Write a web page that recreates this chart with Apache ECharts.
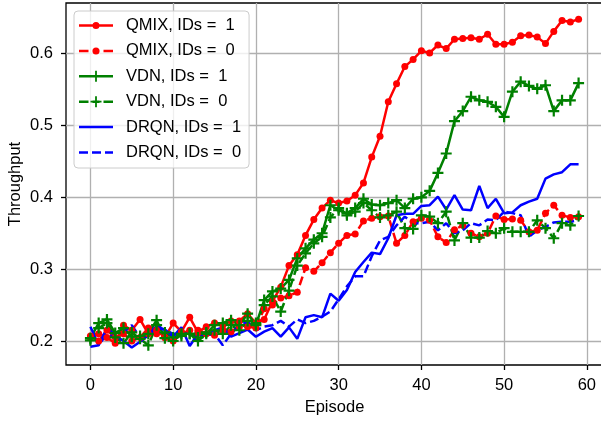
<!DOCTYPE html>
<html>
<head>
<meta charset="utf-8">
<script src="https://cdn.jsdelivr.net/npm/echarts@6/dist/echarts.min.js"></script>
<style>
  html, body { margin: 0; padding: 0; background: #fff; }
  #chart { width: 601px; height: 421px; }
</style>
</head>
<body>
<div id="chart"></div>
<script>
// Throughput per episode for three learners, with and without agent IDs
const episodes = Array.from({ length: 60 }, (_, i) => i);

const qmixIds1 = [0.205,0.21,0.205,0.197,0.222,0.215,0.23,0.21,0.215,0.205,
  0.225,0.213,0.233,0.212,0.22,0.225,0.222,0.228,0.228,0.238,
  0.225,0.23,0.255,0.275,0.305,0.32,0.347,0.369,0.385,0.396,
  0.392,0.395,0.403,0.42,0.456,0.485,0.533,0.558,0.582,0.592,
  0.604,0.601,0.612,0.607,0.62,0.621,0.622,0.62,0.627,0.613,
  0.613,0.616,0.625,0.626,0.623,0.614,0.631,0.646,0.644,0.648];

const qmixIds0 = [0.207,0.2,0.215,0.205,0.21,0.2,0.205,0.218,0.21,0.205,
  0.2,0.21,0.215,0.215,0.21,0.208,0.215,0.213,0.22,0.22,
  0.218,0.245,0.25,0.26,0.263,0.268,0.302,0.297,0.309,0.323,
  0.336,0.347,0.349,0.367,0.371,0.373,0.374,0.336,0.347,0.366,
  0.371,0.368,0.345,0.337,0.355,0.361,0.35,0.345,0.35,0.374,
  0.369,0.37,0.368,0.352,0.354,0.378,0.389,0.375,0.372,0.373];

const vdnIds1 = [0.204,0.225,0.23,0.211,0.218,0.206,0.207,0.21,0.229,0.204,
  0.2,0.21,0.21,0.2,0.21,0.222,0.225,0.229,0.222,0.238,
  0.222,0.257,0.269,0.273,0.285,0.315,0.329,0.341,0.35,0.389,
  0.382,0.378,0.385,0.398,0.39,0.389,0.392,0.396,0.385,0.398,
  0.4,0.409,0.434,0.461,0.506,0.52,0.54,0.535,0.533,0.526,
  0.512,0.547,0.561,0.555,0.551,0.556,0.52,0.535,0.535,0.559];

const vdnIds0 = [0.201,0.218,0.225,0.205,0.197,0.212,0.203,0.194,0.222,0.212,
  0.205,0.207,0.21,0.205,0.212,0.215,0.21,0.222,0.215,0.228,
  0.225,0.25,0.262,0.241,0.27,0.305,0.322,0.336,0.345,0.372,
  0.385,0.375,0.38,0.392,0.382,0.372,0.375,0.38,0.357,0.356,
  0.375,0.373,0.364,0.38,0.34,0.364,0.344,0.344,0.353,0.35,
  0.357,0.352,0.352,0.352,0.368,0.357,0.343,0.364,0.361,0.374];

const drqnIds1 = [0.22,0.194,0.218,0.208,0.2,0.191,0.199,0.208,0.218,0.216,
  0.206,0.219,0.193,0.21,0.208,0.215,0.219,0.206,0.211,0.216,
  0.206,0.213,0.218,0.206,0.219,0.203,0.233,0.236,0.233,0.266,
  0.256,0.271,0.296,0.31,0.323,0.321,0.343,0.375,0.377,0.377,
  0.388,0.389,0.401,0.383,0.403,0.383,0.382,0.416,0.385,0.398,
  0.378,0.379,0.389,0.394,0.398,0.426,0.432,0.435,0.446,0.446];

const drqnIds0 = [0.192,0.194,0.21,0.204,0.212,0.222,0.205,0.208,0.222,0.215,
  0.21,0.208,0.212,0.21,0.208,0.21,0.194,0.21,0.222,0.227,
  0.215,0.22,0.222,0.228,0.22,0.23,0.225,0.228,0.234,0.241,
  0.258,0.276,0.29,0.29,0.318,0.34,0.345,0.361,0.373,0.364,
  0.364,0.366,0.354,0.364,0.35,0.354,0.364,0.361,0.369,0.368,
  0.38,0.378,0.375,0.345,0.354,0.359,0.365,0.366,0.366,0.368];

const xTicks = [0, 10, 20, 30, 40, 50, 60];
const yTicks = [0.2, 0.3, 0.4, 0.5, 0.6];

const FONT = '"Liberation Sans", Arial, sans-serif';
const FS = 16.5;
const LW = 2.5;
const DASH = [9, 4];

// Marker shapes
const PLUS = 'path://M4,0H6V4H10V6H6V10H4V6H0V4H4Z';

// Legend handles: a 34px stroke (solid or dashed) with the series marker centred on it
const LINE_SOLID = 'M0,6.75H34V9.25H0Z';
const LINE_DASHED = 'M0,6.75H9V9.25H0Z M13,6.75H22V9.25H13Z M26,6.75H34V9.25H26Z';
const LINE_DASHED_MARK = 'M0,6.75H9.5V9.25H0Z M13.5,6.75H20.5V9.25H13.5Z M24.5,6.75H34V9.25H24.5Z';
const DOT = 'M20.5,8A3.5,3.5 0 1,1 13.5,8A3.5,3.5 0 1,1 20.5,8Z';
const CROSS = 'M16.1,2.5H17.9V7.1H22.5V8.9H17.9V13.5H16.1V8.9H11.5V7.1H16.1Z';

function pairs(vals) {
  return episodes.map((e, i) => [e, vals[i]]);
}

function makeSeries(name, vals, color, dashed, symbol, symbolSize) {
  return {
    name: name,
    type: 'line',
    data: pairs(vals),
    symbol: symbol,
    symbolSize: symbolSize,
    showSymbol: symbol !== 'none',
    animation: false,
    lineStyle: { color: color, width: LW, type: dashed ? DASH : 'solid' },
    itemStyle: { color: color, borderWidth: 0 },
    emphasis: { disabled: true }
  };
}

const series = [
  makeSeries('QMIX, IDs =  1', qmixIds1, '#ff0000', false, 'circle', 7),
  makeSeries('QMIX, IDs =  0', qmixIds0, '#ff0000', true, 'circle', 7),
  makeSeries('VDN, IDs =  1', vdnIds1, '#008000', false, PLUS, 11),
  makeSeries('VDN, IDs =  0', vdnIds0, '#008000', true, PLUS, 11),
  makeSeries('DRQN, IDs =  1', drqnIds1, '#0000ff', false, 'none', 0),
  makeSeries('DRQN, IDs =  0', drqnIds0, '#0000ff', true, 'none', 0)
];

const legendIcons = [
  'path://' + LINE_SOLID + ' ' + DOT,
  'path://' + LINE_DASHED_MARK + ' ' + DOT,
  'path://' + LINE_SOLID + ' ' + CROSS,
  'path://' + LINE_DASHED_MARK + ' ' + CROSS,
  'path://' + LINE_SOLID,
  'path://' + LINE_DASHED
];

const chart = echarts.init(document.getElementById('chart'), null, { renderer: 'canvas' });

chart.setOption({
  animation: false,
  backgroundColor: '#ffffff',
  textStyle: { fontFamily: FONT },
  grid: {
    left: 66, top: 3, width: 537, height: 362,
    outerBoundsMode: 'none',
    containLabel: false,
    show: true, borderColor: '#000000', borderWidth: 1.3,
    backgroundColor: 'transparent'
  },
  legend: {
    orient: 'vertical',
    left: 74, top: 11,
    padding: [6, 8, 7, 5],
    itemGap: 8.4,
    itemWidth: 34,
    itemHeight: 16,
    symbolKeepAspect: true,
    backgroundColor: 'rgba(255,255,255,0.8)',
    borderColor: '#cccccc',
    borderWidth: 1,
    borderRadius: 4,
    selectedMode: false,
    textStyle: { fontFamily: FONT, fontSize: FS, color: '#000', padding: [0, 0, 0, 8] },
    data: series.map((s, i) => ({ name: s.name, icon: legendIcons[i] }))
  },
  xAxis: {
    type: 'value',
    min: -2.95, max: 61.95,
    name: 'Episode',
    nameLocation: 'middle',
    nameGap: 34,
    nameMoveOverlap: false,
    nameTextStyle: { fontFamily: FONT, fontSize: FS, color: '#000' },
    axisLine: { show: false, onZero: false },
    axisTick: { show: true, length: 5, lineStyle: { color: '#000', width: 1.3 }, customValues: xTicks },
    axisLabel: { fontFamily: FONT, fontSize: FS, color: '#000', margin: 12, customValues: xTicks,
      formatter: v => String(v) },
    splitLine: { show: true, lineStyle: { color: '#b0b0b0', width: 1.3 } }
  },
  yAxis: {
    type: 'value',
    min: 0.1666, max: 0.6705,
    name: 'Throughput',
    nameLocation: 'middle',
    nameGap: 42,
    nameRotate: 90,
    nameMoveOverlap: false,
    nameTextStyle: { fontFamily: FONT, fontSize: FS, color: '#000' },
    axisLine: { show: false, onZero: false },
    axisTick: { show: true, length: 5, lineStyle: { color: '#000', width: 1.3 }, customValues: yTicks },
    axisLabel: { fontFamily: FONT, fontSize: FS, color: '#000', margin: 13, customValues: yTicks,
      formatter: v => v.toFixed(1) },
    splitLine: { show: true, lineStyle: { color: '#b0b0b0', width: 1.3 } }
  },
  series: series
});
</script>
</body>
</html>
